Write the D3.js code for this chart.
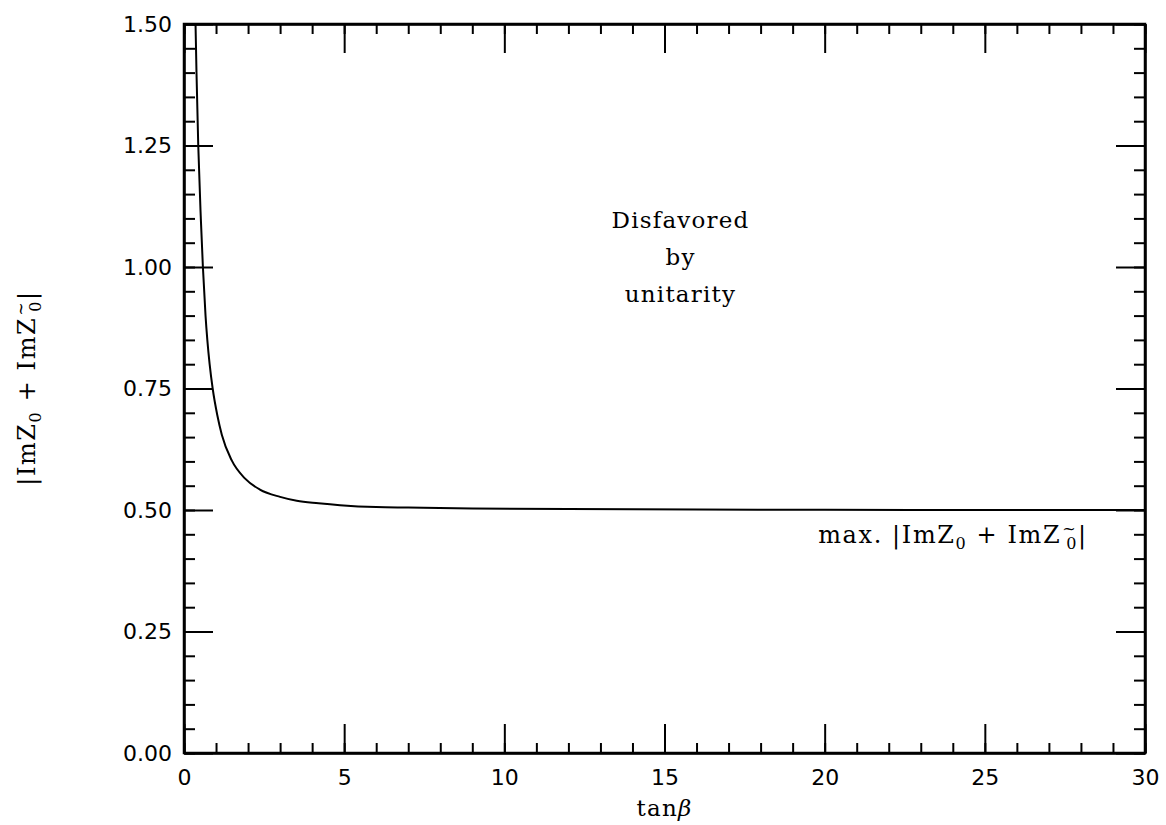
<!DOCTYPE html>
<html lang="en">
  <head>
    <meta charset="utf-8">
    <title>unitarity bound</title>
    <style>
      body, html { margin:0; padding:0; background:#fff; }
      svg { display:block; }
      .tick text { font-family: "DejaVu Sans", sans-serif; font-size:22px; fill:#000; }
      .lbl { font-family: "DejaVu Serif", serif; font-size:23px; letter-spacing:1.2px; fill:#000; }
      .wide { font-size:24px; letter-spacing:1.6px; }
      .axis path, .axis line { stroke:#000; stroke-width:2; }
    </style>
    <script src="https://cdn.jsdelivr.net/npm/d3@7"></script>
  </head>
  <body>
    <div id="chart"></div>
<script>
// values
var tanBeta = [0.36, 0.39, 0.445, 0.525, 0.59, 0.672, 0.728, 0.80, 0.895, 1.04, 1.18, 1.49, 1.9, 2.37, 3.0, 3.52, 4.2, 4.87, 6.0, 7.0, 9.0, 12, 16, 20, 25, 30];
var imZ     = [1.50, 1.40, 1.25, 1.10, 1.00, 0.90, 0.85, 0.80, 0.75, 0.695, 0.655, 0.602, 0.565, 0.542, 0.527, 0.519, 0.514, 0.510, 0.506, 0.505, 0.503, 0.502, 0.501, 0.5005, 0.5, 0.5];
var xTicks  = [0, 5, 10, 15, 20, 25, 30];
var yTicks  = [0, 0.25, 0.5, 0.75, 1.0, 1.25, 1.5];
var xMinor  = d3.range(0, 31, 1);
var yMinor  = d3.range(0, 1.501, 0.05);

var W = 1166, H = 825;
var m = { left:184, right:21, top:24, bottom:72 };
var w = W - m.left - m.right, h = H - m.top - m.bottom;

var svg = d3.select('#chart').append('svg').attr('width', W).attr('height', H);
var g = svg.append('g').attr('transform', 'translate('+m.left+','+m.top+')');

var x = d3.scaleLinear().domain([0, 30]).range([0, w]);
var y = d3.scaleLinear().domain([0, 1.5]).range([h, 0]);

// major ticks (inward) with labels on bottom / left
g.append('g').attr('class','axis').attr('transform','translate(0,'+h+')')
  .call(d3.axisBottom(x).tickValues(xTicks).tickFormat(d3.format('d')).tickSize(-29).tickSizeOuter(0).tickPadding(16));
g.append('g').attr('class','axis')
  .call(d3.axisLeft(y).tickValues(yTicks).tickFormat(d3.format('.2f')).tickSize(-29).tickSizeOuter(0).tickPadding(12));
// top / right major ticks, no labels
g.append('g').attr('class','axis')
  .call(d3.axisTop(x).tickValues(xTicks).tickFormat('').tickSize(-29).tickSizeOuter(0));
g.append('g').attr('class','axis').attr('transform','translate('+w+',0)')
  .call(d3.axisRight(y).tickValues(yTicks).tickFormat('').tickSize(-29).tickSizeOuter(0));

// minor ticks on all sides
g.append('g').attr('class','axis').attr('transform','translate(0,'+h+')')
  .call(d3.axisBottom(x).tickValues(xMinor).tickFormat('').tickSize(-10).tickSizeOuter(0));
g.append('g').attr('class','axis')
  .call(d3.axisTop(x).tickValues(xMinor).tickFormat('').tickSize(-10).tickSizeOuter(0));
g.append('g').attr('class','axis')
  .call(d3.axisLeft(y).tickValues(yMinor).tickFormat('').tickSize(-11).tickSizeOuter(0));
g.append('g').attr('class','axis').attr('transform','translate('+w+',0)')
  .call(d3.axisRight(y).tickValues(yMinor).tickFormat('').tickSize(-11).tickSizeOuter(0));

// frame
g.append('rect').attr('width', w).attr('height', h)
  .attr('fill','none').attr('stroke','#000').attr('stroke-width', 2.5);

// curve
g.append('clipPath').attr('id','clip').append('rect').attr('width', w).attr('height', h);
var line = d3.line().x(function(d){ return x(d[0]); }).y(function(d){ return y(d[1]); }).curve(d3.curveMonotoneX);
g.append('path').datum(d3.zip(tanBeta, imZ))
  .attr('clip-path','url(#clip)')
  .attr('d', line).attr('fill','none').attr('stroke','#000').attr('stroke-width', 2);

// region label
var region = ['Disfavored', 'by', 'unitarity'];
g.selectAll('.region').data(region).enter().append('text')
  .attr('class','lbl region').attr('text-anchor','middle')
  .attr('x', x(15.5)).attr('y', function(d,i){ return 204 + i*37; })
  .text(function(d){ return d; });

// helper: |ImZ0 + ImZ~0|
function imzLabel(t) {
  t.append('tspan').text('|ImZ');
  t.append('tspan').attr('font-size','16px').attr('dy', 6).text('0');
  t.append('tspan').attr('dy', -6).text('  +  ImZ');
  t.append('tspan').attr('font-size','16px').attr('dx', 1).attr('dy', -9).text('~');
  t.append('tspan').attr('font-size','16px').attr('dx', -11).attr('dy', 15).text('0');
  t.append('tspan').attr('dy', -6).text('|');
}

var ann = g.append('text').attr('class','lbl wide').attr('x', x(19.8)).attr('y', 519);
ann.append('tspan').text('max.  ');
imzLabel(ann);

// axis titles
var xt = svg.append('text').attr('class','lbl').attr('text-anchor','middle')
  .attr('x', m.left + w/2).attr('y', 816);
xt.append('tspan').text('tan');
xt.append('tspan').attr('font-style','italic').text('\u03b2');

var yt = svg.append('text').attr('class','lbl wide').attr('text-anchor','middle')
  .attr('transform','translate(35,388) rotate(-90)');
imzLabel(yt);
</script>
  </body>
</html>
